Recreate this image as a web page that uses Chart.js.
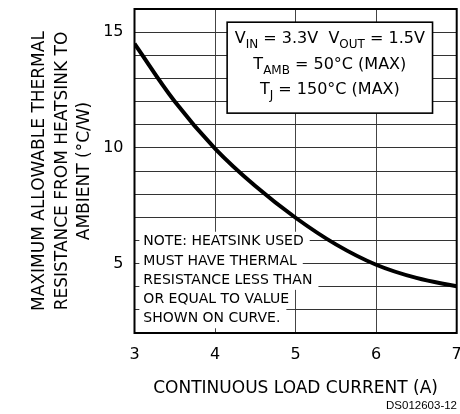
<!DOCTYPE html>
<html>
<head>
<meta charset="utf-8">
<script src="https://cdn.jsdelivr.net/npm/chart.js@4.4.0/dist/chart.umd.min.js"></script>
<style>
  html, body { margin: 0; padding: 0; background: #fff; }
  #wrap { width: 460px; height: 414px; }
</style>
</head>
<body>
<div id="wrap"><canvas id="thermalChart"></canvas></div>
<script>
// load current (A) vs. max heatsink thermal resistance (°C/W)
const currents = [3, 3.5, 4, 4.5, 5, 5.5, 6, 6.5, 7];
const resistance = [14.5, 12.0, 9.97, 8.35, 6.98, 5.83, 4.95, 4.38, 4.02];
const yTickLabels = [5, 10, 15];

const FONT = '"DejaVu Sans", sans-serif';

const noteLines = [
  'NOTE: HEATSINK USED',
  'MUST HAVE THERMAL',
  'RESISTANCE LESS THAN',
  'OR EQUAL TO VALUE',
  'SHOWN ON CURVE.'
];

// each line is a list of [text, isSubscript]
const conditionLines = [
  [['V', 0], ['IN', 1], [' = 3.3V  V', 0], ['OUT', 1], [' = 1.5V', 0]],
  [['T', 0], ['AMB', 1], [' = 50°C (MAX)', 0]],
  [['T', 0], ['J', 1], [' = 150°C (MAX)', 0]]
];

const annotations = {
  id: 'annotations',
  beforeDatasetsDraw(chart) {
    const { ctx, scales: { x, y } } = chart;
    ctx.save();

    // note in the lower left, sitting on white strips over the grid
    ctx.font = '14px ' + FONT;
    ctx.textBaseline = 'middle';
    ctx.fillStyle = '#000';
    const noteX = x.getPixelForValue(3.11);
    let noteY = y.getPixelForValue(5.96);
    const step = 19.2;
    noteLines.forEach(line => {
      const w = ctx.measureText(line).width;
      ctx.fillStyle = '#fff';
      ctx.fillRect(noteX - 4, noteY - step / 2, w + 10, step + 0.5);
      ctx.fillStyle = '#000';
      ctx.fillText(line, noteX, noteY + 0.5);
      noteY += step;
    });

    // conditions box, upper right
    const bx1 = x.getPixelForValue(4.15), bx2 = x.getPixelForValue(6.7);
    const by1 = y.getPixelForValue(15.43), by2 = y.getPixelForValue(11.5);
    ctx.fillStyle = '#fff';
    ctx.fillRect(bx1, by1, bx2 - bx1, by2 - by1);
    ctx.strokeStyle = '#000';
    ctx.lineWidth = 1.6;
    ctx.strokeRect(bx1, by1, bx2 - bx1, by2 - by1);

    const cx = (bx1 + bx2) / 2;
    const rows = [38.5, 65, 90];
    ctx.fillStyle = '#000';
    ctx.textBaseline = 'middle';
    ctx.textAlign = 'left';
    conditionLines.forEach((runs, i) => {
      let total = 0;
      runs.forEach(([t, sub]) => {
        ctx.font = (sub ? '12px ' : '16px ') + FONT;
        total += ctx.measureText(t).width;
      });
      let px = cx - total / 2;
      runs.forEach(([t, sub]) => {
        ctx.font = (sub ? '12px ' : '16px ') + FONT;
        ctx.fillText(t, px, rows[i] + (sub ? 6 : 0));
        px += ctx.measureText(t).width;
      });
    });
    ctx.restore();
  },
  afterDraw(chart) {
    const { ctx, chartArea: a } = chart;
    ctx.save();
    ctx.strokeStyle = '#000';
    ctx.lineWidth = 2;
    ctx.strokeRect(a.left, a.top, a.right - a.left, a.bottom - a.top);
    ctx.font = '11.5px "Liberation Sans", Arial, sans-serif';
    ctx.fillStyle = '#000';
    ctx.textAlign = 'right';
    ctx.textBaseline = 'middle';
    ctx.fillText('DS012603-12', 457, 406);
    ctx.restore();
  }
};

new Chart(document.getElementById('thermalChart'), {
  type: 'line',
  data: {
    datasets: [{
      data: currents.map((c, i) => ({ x: c, y: resistance[i] })),
      borderColor: '#000',
      borderWidth: 4,
      pointRadius: 0,
      fill: false,
      tension: 0.4
    }]
  },
  options: {
    responsive: true,
    maintainAspectRatio: false,
    animation: false,
    layout: { padding: { left: 0, right: 3.3, top: 9, bottom: 0 } },
    plugins: { legend: { display: false }, tooltip: { enabled: false } },
    scales: {
      x: {
        type: 'linear',
        min: 3,
        max: 7,
        afterFit(scale) {
          scale.height = 81;
          scale.paddingLeft = 0;
          scale.paddingRight = 0;
        },
        ticks: {
          stepSize: 1,
          color: '#000',
          padding: 12,
          font: { family: FONT, size: 16 }
        },
        grid: { color: '#444', lineWidth: 1, drawTicks: false },
        border: { display: false },
        title: {
          display: true,
          text: 'CONTINUOUS LOAD CURRENT (A)',
          color: '#000',
          font: { family: FONT, size: 17 },
          padding: { top: 0, bottom: 15 }
        }
      },
      y: {
        min: 2,
        max: 16,
        afterFit(scale) {
          scale.width = 134.5;
          scale.paddingTop = 0;
          scale.paddingBottom = 0;
        },
        ticks: {
          stepSize: 1,
          autoSkip: false,
          color: '#000',
          padding: 11,
          font: { family: FONT, size: 16 },
          callback: v => yTickLabels.includes(v) ? String(v) : ''
        },
        grid: { color: '#333', lineWidth: 1, drawTicks: false },
        border: { display: false },
        title: {
          display: true,
          text: ['MAXIMUM ALLOWABLE THERMAL', 'RESISTANCE FROM HEATSINK TO', 'AMBIENT (°C/W)'],
          color: '#000',
          font: { family: FONT, size: 17, lineHeight: 1.3 },
          padding: { top: 29, bottom: 0 }
        }
      }
    }
  },
  plugins: [annotations]
});
</script>
</body>
</html>
